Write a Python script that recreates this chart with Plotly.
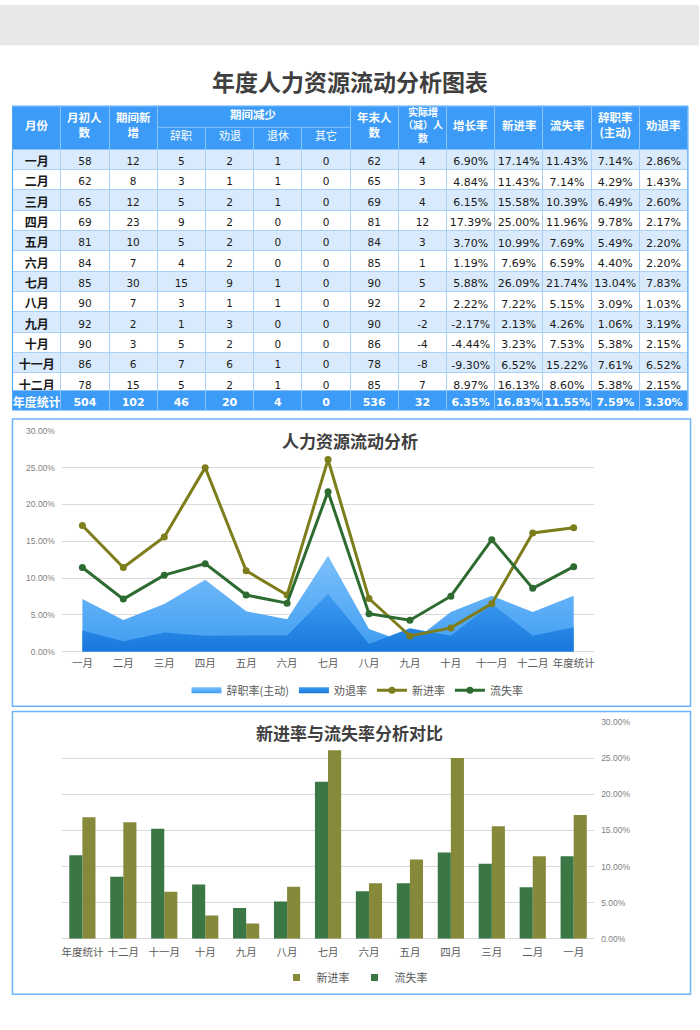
import plotly.graph_objects as go

W, H = 700, 1030

# ---------------- data ----------------
months = ["一月", "二月", "三月", "四月", "五月", "六月", "七月", "八月", "九月", "十月", "十一月", "十二月"]
total_label = "年度统计"
categories = months + [total_label]

start_count = [58, 62, 65, 69, 81, 84, 85, 90, 92, 90, 86, 78, 504]
new_hires = [12, 8, 12, 23, 10, 7, 30, 7, 2, 3, 6, 15, 102]
resigned = [5, 3, 5, 9, 5, 4, 15, 3, 1, 5, 7, 5, 46]
dismissed = [2, 1, 2, 2, 2, 2, 9, 1, 3, 2, 6, 2, 20]
retired = [1, 1, 1, 0, 0, 0, 1, 1, 0, 0, 1, 1, 4]
other_loss = [0, 0, 0, 0, 0, 0, 0, 0, 0, 0, 0, 0, 0]
end_count = [62, 65, 69, 81, 84, 85, 90, 92, 90, 86, 78, 85, 536]
net_change = [4, 3, 4, 12, 3, 1, 5, 2, -2, -4, -8, 7, 32]
growth_rate = [6.90, 4.84, 6.15, 17.39, 3.70, 1.19, 5.88, 2.22, -2.17, -4.44, -9.30, 8.97, 6.35]
new_rate = [17.14, 11.43, 15.58, 25.00, 10.99, 7.69, 26.09, 7.22, 2.13, 3.23, 6.52, 16.13, 16.83]
loss_rate = [11.43, 7.14, 10.39, 11.96, 7.69, 6.59, 21.74, 5.15, 4.26, 7.53, 15.22, 8.60, 11.55]
resign_rate = [7.14, 4.29, 6.49, 9.78, 5.49, 4.40, 13.04, 3.09, 1.06, 5.38, 7.61, 5.38, 7.59]
dismiss_rate = [2.86, 1.43, 2.60, 2.17, 2.20, 2.20, 7.83, 1.03, 3.19, 2.15, 6.52, 2.15, 3.30]

header_labels = ["月份", "月初人<br>数", "期间新<br>增", "辞职", "劝退", "退休", "其它", "年末人<br>数",
                 "实际增<br>（减）人<br>数", "增长率", "新进率", "流失率", "辞职率<br>(主动)", "劝退率"]
group_label = "期间减少"

# ---------------- helpers ----------------
def px(x):
    return x / W


def py(y):
    return 1 - y / H


HEAD_BLUE = "#3b9bf6"
LIGHT_ROW = "#d8eafc"
GRID = "#d9d9d9"
TXT = "#595959"
CJK = "Noto Sans CJK SC"
NUM = "DejaVu Sans"
CJK_SHIFT = -2.5  # CJK glyph boxes sit a little low; nudge labels up

fig = go.Figure()

# ---------------- table ----------------
T_X0, T_X1 = 12.6, 689.0
T_Y0, T_HEAD, T_SUM, T_Y1 = 102.0, 145.0, 389.0, 409.0
ncol = 14
colw = (T_X1 - T_X0) / ncol
n_month = len(months)

int_cols = [start_count, new_hires, resigned, dismissed, retired, other_loss, end_count, net_change]
pct_cols = [growth_rate, new_rate, loss_rate, resign_rate, dismiss_rate]

body_values = [months]
sum_values = [[total_label]]
for col in int_cols:
    body_values.append([str(v) for v in col[:-1]])
    sum_values.append([str(col[-1])])
for col in pct_cols:
    body_values.append(["%.2f%%" % v for v in col[:-1]])
    sum_values.append(["%.2f%%" % col[-1]])

row_fill = [LIGHT_ROW if i % 2 == 0 else "white" for i in range(n_month)]
fam = [CJK] + [NUM] * 13
sizes = [12] + [10.5] * 8 + [11] * 5

fig.add_trace(go.Table(
    domain=dict(x=[px(T_X0), px(T_X1)], y=[py(T_SUM + 3), py(T_Y0)]),
    columnwidth=[1] * ncol,
    header=dict(values=[""] * ncol, height=T_HEAD - T_Y0,
                fill_color=HEAD_BLUE, line=dict(color="#8cc4fa", width=1)),
    cells=dict(values=body_values, height=(T_SUM - T_HEAD) / n_month, align="center",
               fill_color=[row_fill] * ncol,
               line=dict(color="#a9d1f7", width=1),
               font=dict(family=fam, size=sizes, color="#1a1a1a",
                         weight=[700] + [400] * 13)),
))

# annual summary row (drawn as the header row of a second table)
fig.add_trace(go.Table(
    domain=dict(x=[px(T_X0), px(T_X1)], y=[py(T_Y1 + 1), py(T_SUM)]),
    columnwidth=[1] * ncol,
    header=dict(values=sum_values, height=T_Y1 - T_SUM, align="center",
                fill_color=HEAD_BLUE, line=dict(color="#8cc4fa", width=1),
                font=dict(family=fam, size=[12] + [11] * 13, color="white", weight="bold")),
    cells=dict(values=[]),
))

annotations = []
shapes = []

# top gray band
shapes.append(dict(type="rect", xref="paper", yref="paper", x0=0, x1=1, y0=py(41), y1=1,
                   fillcolor="#e8e8e8", line=dict(width=0), layer="below"))

# page title
annotations.append(dict(text="<b>年度人力资源流动分析图表</b>", x=px(350), y=py(80 + CJK_SHIFT - 1),
                        xref="paper", yref="paper",
                        showarrow=False, font=dict(family=CJK, size=23, color="#3f3f3f"),
                        xanchor="center", yanchor="middle"))

# header labels
mid_head = (T_Y0 + T_HEAD) / 2
split_y = 123.5
for i, lab in enumerate(header_labels):
    cx = T_X0 + colw * (i + 0.5)
    if 3 <= i <= 6:
        annotations.append(dict(text=lab, x=px(cx), y=py((split_y + T_HEAD) / 2 + CJK_SHIFT),
                                xref="paper", yref="paper",
                                showarrow=False, font=dict(family=CJK, size=11, color="white"),
                                xanchor="center", yanchor="middle"))
    else:
        size = 10 if lab.count("<br>") > 1 else 11.5
        annotations.append(dict(text="<b>%s</b>" % lab, x=px(cx), y=py(mid_head + CJK_SHIFT),
                                xref="paper", yref="paper",
                                showarrow=False, font=dict(family=CJK, size=size, color="white"),
                                xanchor="center", yanchor="middle"))
gx0 = T_X0 + colw * 3
gx1 = T_X0 + colw * 7
shapes.append(dict(type="rect", xref="paper", yref="paper", x0=px(gx0 + 1), x1=px(gx1 - 1),
                   y0=py(split_y), y1=py(T_Y0 + 0.5), fillcolor=HEAD_BLUE, line=dict(width=0), layer="above"))
shapes.append(dict(type="line", xref="paper", yref="paper", x0=px(gx0), x1=px(gx1),
                   y0=py(split_y), y1=py(split_y), line=dict(color="#8cc4fa", width=1), layer="above"))
annotations.append(dict(text="<b>%s</b>" % group_label, x=px((gx0 + gx1) / 2),
                        y=py((T_Y0 + split_y) / 2 + CJK_SHIFT),
                        xref="paper", yref="paper", showarrow=False,
                        font=dict(family=CJK, size=11.5, color="white"), xanchor="center", yanchor="middle"))
# table outer border
shapes.append(dict(type="rect", xref="paper", yref="paper", x0=px(T_X0), x1=px(T_X1),
                   y0=py(T_Y1), y1=py(T_Y0), line=dict(color="#4fa6f7", width=1),
                   fillcolor="rgba(0,0,0,0)", layer="above"))

# ---------------- chart 1 ----------------
P_X0, P_X1 = 62, 595
C1_Y0, C1_Y30 = 653, 430

fig.add_trace(go.Scatter(x=categories, y=resign_rate, name="辞职率(主动)", mode="none", fill="tozeroy",
                         fillcolor="#5aaaf2",
                         fillgradient=dict(type="vertical", colorscale=[[0, "#3f9df2"], [1, "#7cc0fa"]]),
                         xaxis="x", yaxis="y", legend="legend"))
fig.add_trace(go.Scatter(x=categories, y=dismiss_rate, name="劝退率", mode="none", fill="tozeroy",
                         fillcolor="#2a8ae6",
                         fillgradient=dict(type="vertical", colorscale=[[0, "#1878dc"], [1, "#3d9bf0"]]),
                         xaxis="x", yaxis="y", legend="legend"))
fig.add_trace(go.Scatter(x=categories, y=new_rate, name="新进率", mode="lines+markers",
                         line=dict(color="#7d7d1c", width=3), marker=dict(size=7, color="#7d7d1c"),
                         xaxis="x", yaxis="y", legend="legend"))
fig.add_trace(go.Scatter(x=categories, y=loss_rate, name="流失率", mode="lines+markers",
                         line=dict(color="#2e6b30", width=3), marker=dict(size=7, color="#2e6b30"),
                         xaxis="x", yaxis="y", legend="legend"))

# ---------------- chart 2 ----------------
C2_Y0, C2_Y30 = 943, 724
OLIVE_BAR = "#86883a"
GREEN_BAR = "#3a7744"
fig.add_trace(go.Bar(x=categories, y=new_rate, name="新进率", marker=dict(color=OLIVE_BAR, line=dict(width=0)),
                     xaxis="x2", yaxis="y2", showlegend=False))
fig.add_trace(go.Bar(x=categories, y=loss_rate, name="流失率", marker=dict(color=GREEN_BAR, line=dict(width=0)),
                     xaxis="x2", yaxis="y2", showlegend=False))
# legend entries (small square keys like the original)
for nm, colr in [("新进率", OLIVE_BAR), ("流失率", GREEN_BAR)]:
    fig.add_trace(go.Scatter(x=[None], y=[None], name=nm, mode="markers",
                             marker=dict(symbol="square", size=7, color=colr),
                             xaxis="x2", yaxis="y2", legend="legend2"))

# chart frames
for (y0, y1) in [(418, 708), (713.5, 999)]:
    shapes.append(dict(type="rect", xref="paper", yref="paper", x0=px(12.5), x1=px(691.5),
                       y0=py(y1), y1=py(y0), line=dict(color="#6cb4fb", width=1.5),
                       fillcolor="rgba(0,0,0,0)", layer="below"))

annotations.append(dict(text="<b>人力资源流动分析</b>", x=px(350), y=py(440), xref="paper", yref="paper",
                        showarrow=False, font=dict(family=CJK, size=17, color="#404040"),
                        xanchor="center", yanchor="middle"))
annotations.append(dict(text="<b>新进率与流失率分析对比</b>", x=px(350), y=py(735), xref="paper", yref="paper",
                        showarrow=False, font=dict(family=CJK, size=17, color="#404040"),
                        xanchor="center", yanchor="middle"))

axis_font = dict(family=CJK, size=10.5, color=TXT)
y_font = dict(family="Liberation Sans", size=8.5, color="#7f7f7f")

fig.update_layout(
    width=W, height=H, autosize=False,
    margin=dict(l=0, r=0, t=0, b=0),
    paper_bgcolor="white", plot_bgcolor="rgba(0,0,0,0)",
    showlegend=True,
    barmode="group", bargap=0.36, bargroupgap=0,
    xaxis=dict(domain=[px(P_X0), px(P_X1)], anchor="y", type="category", range=[-0.5, 12.5],
               showgrid=False, showline=False, ticks="", tickangle=0, tickfont=axis_font,
               ticklabelstandoff=4),
    yaxis=dict(domain=[py(C1_Y0), py(C1_Y30)], anchor="x", range=[0, 30], dtick=5,
               tickformat=".2f", ticksuffix="%", showgrid=True, gridcolor=GRID, gridwidth=1,
               zeroline=True, zerolinecolor=GRID, zerolinewidth=1, showline=False, tickfont=y_font,
               ticklabelstandoff=6),
    xaxis2=dict(domain=[px(P_X0), px(P_X1)], anchor="y2", type="category", range=[12.5, -0.5],
                showgrid=False, showline=False, ticks="", tickangle=0, tickfont=axis_font,
                ticklabelstandoff=6),
    yaxis2=dict(domain=[py(C2_Y0), py(C2_Y30)], anchor="x2", side="right", range=[0, 30], dtick=5,
                tickformat=".2f", ticksuffix="%", showgrid=True, gridcolor=GRID, gridwidth=1,
                zeroline=True, zerolinecolor=GRID, zerolinewidth=1, showline=False, tickfont=y_font,
                ticklabelstandoff=6),
    legend=dict(orientation="h", x=px(358), y=py(692), xanchor="center", yanchor="middle",
                font=dict(family=CJK, size=11, color=TXT), bgcolor="rgba(0,0,0,0)"),
    legend2=dict(orientation="h", x=px(355), y=py(982), xanchor="center", yanchor="middle",
                 font=dict(family=CJK, size=11, color=TXT), bgcolor="rgba(0,0,0,0)",
                 itemwidth=30),
    shapes=shapes,
    annotations=annotations,
)

fig.write_html(
    "out.html",
    config={"displayModeBar": False},
    post_script=("document.body.style.margin='0';document.body.style.padding='0';"
                 "document.body.style.overflow='hidden';"
                 "var d=document.getElementById('{plot_id}');"
                 "d.style.position='absolute';d.style.left='0px';d.style.top='0px';"),
)
